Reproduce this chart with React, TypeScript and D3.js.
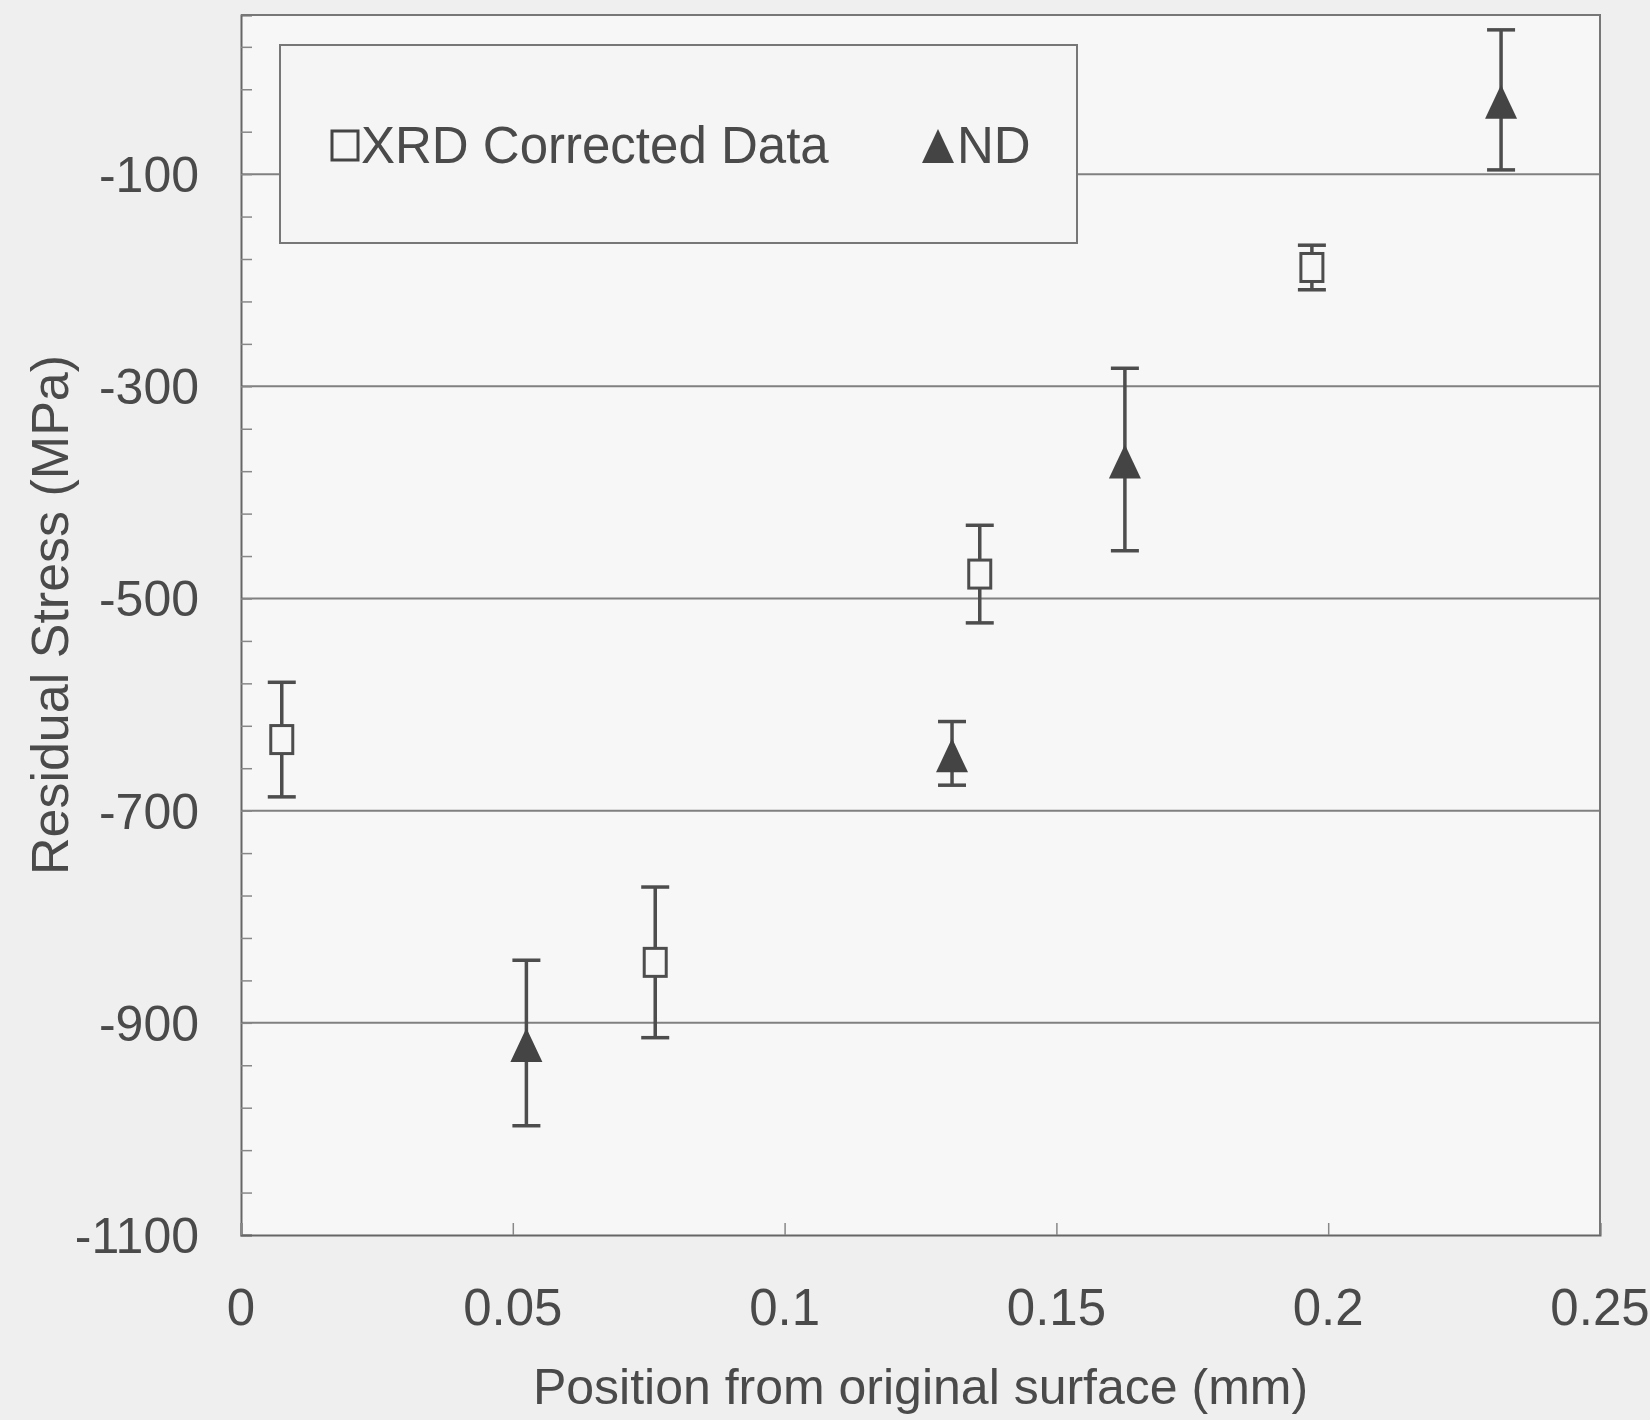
import { useCallback, useEffect, useRef } from "react";
import * as d3 from "d3";

// XRD corrected data (open squares)
const xrdPosition = [0.0075, 0.0762, 0.1359, 0.197];
const xrdStress = [-633, -843, -477, -188];
const xrdError = [54, 71, 46, 21];

// neutron diffraction (filled triangles)
const ndPosition = [0.0525, 0.1308, 0.1626, 0.2318];
const ndStress = [-919, -646, -369, -30];
const ndError = [78, 30, 86, 66];

const xTicks = [0, 0.05, 0.1, 0.15, 0.2, 0.25];
const yTicks = [-1100, -900, -700, -500, -300, -100];
const legendLabels = ["XRD Corrected Data", "ND"];

const W = 1650;
const H = 1420;
const FONT = "'Liberation Sans', Arial, sans-serif";
const INK = "#4a4a4a";

export default function App() {
  const ref = useRef<SVGSVGElement | null>(null);

  const draw = useCallback(() => {
    const svg = d3.select(ref.current);
    svg.selectAll("*").remove();

    const margin = { top: 15, right: 50, bottom: 185, left: 241 };
    const x = d3.scaleLinear().domain([0, 0.25]).range([margin.left, W - margin.right]);
    const y = d3.scaleLinear().domain([-1100, 50]).range([H - margin.bottom, margin.top]);

    svg.append("rect").attr("width", W).attr("height", H).attr("fill", "#efefef");
    svg.append("rect")
      .attr("x", x(0)).attr("y", y(50))
      .attr("width", x(0.25) - x(0)).attr("height", y(-1100) - y(50))
      .attr("fill", "#f7f7f7");

    // gridlines
    svg.append("g")
      .selectAll("line")
      .data(yTicks.filter((t) => t > -1100))
      .join("line")
      .attr("x1", x(0)).attr("x2", x(0.25))
      .attr("y1", (d) => y(d)).attr("y2", (d) => y(d))
      .attr("stroke", "#808080").attr("stroke-width", 2);

    // y axis with inside minor ticks
    const yAxis = d3.axisRight(y)
      .tickValues(d3.range(-1100, 51, 40))
      .tickSize(11)
      .tickFormat(() => "");
    const gy = svg.append("g").attr("transform", `translate(${x(0)},0)`).call(yAxis);
    gy.selectAll("line").attr("stroke", "#888").attr("stroke-width", 1.5);
    gy.select(".domain").attr("stroke", "#666").attr("stroke-width", 2);

    // x axis with inside ticks
    const xAxis = d3.axisTop(x).tickValues(xTicks).tickSize(12).tickFormat(() => "");
    const gx = svg.append("g").attr("transform", `translate(0,${y(-1100)})`).call(xAxis);
    gx.selectAll("line").attr("stroke", "#888").attr("stroke-width", 1.5);
    gx.select(".domain").attr("stroke", "#666").attr("stroke-width", 2);

    // frame top/right
    svg.append("path")
      .attr("d", `M${x(0)},${y(50)}H${x(0.25)}V${y(-1100)}`)
      .attr("fill", "none").attr("stroke", "#777").attr("stroke-width", 2);

    // tick labels
    svg.append("g")
      .selectAll("text")
      .data(yTicks)
      .join("text")
      .attr("x", 199).attr("y", (d) => y(d))
      .attr("dy", "0.36em")
      .attr("text-anchor", "end")
      .attr("font-family", FONT).attr("font-size", 50).attr("fill", INK)
      .text((d) => String(d));

    svg.append("g")
      .selectAll("text")
      .data(xTicks)
      .join("text")
      .attr("x", (d) => x(d)).attr("y", 1325)
      .attr("text-anchor", "middle")
      .attr("font-family", FONT).attr("font-size", 51).attr("fill", INK)
      .text((d) => String(d));

    // axis titles
    svg.append("text")
      .attr("x", (x(0) + x(0.25)) / 2).attr("y", 1404)
      .attr("text-anchor", "middle")
      .attr("font-family", FONT).attr("font-size", 50).attr("fill", INK)
      .text("Position from original surface (mm)");

    svg.append("text")
      .attr("transform", `translate(68,615) rotate(-90)`)
      .attr("text-anchor", "middle")
      .attr("font-family", FONT).attr("font-size", 52).attr("fill", INK)
      .text("Residual Stress (MPa)");

    const tri = (cx: number, cy: number, w: number, h: number) =>
      `M${cx},${cy - h / 2}L${cx + w / 2},${cy + h / 2}L${cx - w / 2},${cy + h / 2}Z`;

    const errorBars = (xs: number[], ys: number[], es: number[]) => {
      const g = svg.append("g").attr("stroke", "#4d4d4d").attr("stroke-width", 3.5).attr("fill", "none");
      xs.forEach((xv, i) => {
        const cx = x(xv);
        const top = y(ys[i] + es[i]);
        const bot = y(ys[i] - es[i]);
        g.append("line").attr("x1", cx).attr("x2", cx).attr("y1", top).attr("y2", bot);
        g.append("line").attr("x1", cx - 14).attr("x2", cx + 14).attr("y1", top).attr("y2", top);
        g.append("line").attr("x1", cx - 14).attr("x2", cx + 14).attr("y1", bot).attr("y2", bot);
      });
    };

    errorBars(xrdPosition, xrdStress, xrdError);
    errorBars(ndPosition, ndStress, ndError);

    svg.append("g")
      .selectAll("rect")
      .data(xrdPosition)
      .join("rect")
      .attr("x", (d) => x(d) - 11)
      .attr("y", (d, i) => y(xrdStress[i]) - 14)
      .attr("width", 22).attr("height", 28)
      .attr("fill", "#f7f7f7").attr("stroke", "#4d4d4d").attr("stroke-width", 3);

    svg.append("g")
      .selectAll("path")
      .data(ndPosition)
      .join("path")
      .attr("d", (d, i) => tri(x(d), y(ndStress[i]) + 2, 32, 34))
      .attr("fill", "#444");

    // legend
    const lg = svg.append("g");
    lg.append("rect")
      .attr("x", 280).attr("y", 45).attr("width", 797).attr("height", 198)
      .attr("fill", "#f5f5f5").attr("stroke", "#777").attr("stroke-width", 2);
    lg.append("rect")
      .attr("x", 332).attr("y", 131).attr("width", 26).attr("height", 29)
      .attr("fill", "none").attr("stroke", "#444").attr("stroke-width", 3);
    lg.append("text")
      .attr("x", 361).attr("y", 163)
      .attr("font-family", FONT).attr("font-size", 51).attr("fill", INK)
      .text(legendLabels[0]);
    lg.append("path").attr("d", tri(938, 146, 32, 34)).attr("fill", "#444");
    lg.append("text")
      .attr("x", 957).attr("y", 163)
      .attr("font-family", FONT).attr("font-size", 51).attr("fill", INK)
      .text(legendLabels[1]);
  }, []);

  useEffect(() => {
    draw();
  }, [draw]);

  return (
    <svg
      ref={ref}
      width={W}
      height={H}
      style={{ position: "absolute", left: 0, top: 0, display: "block" }}
    ></svg>
  );
}
